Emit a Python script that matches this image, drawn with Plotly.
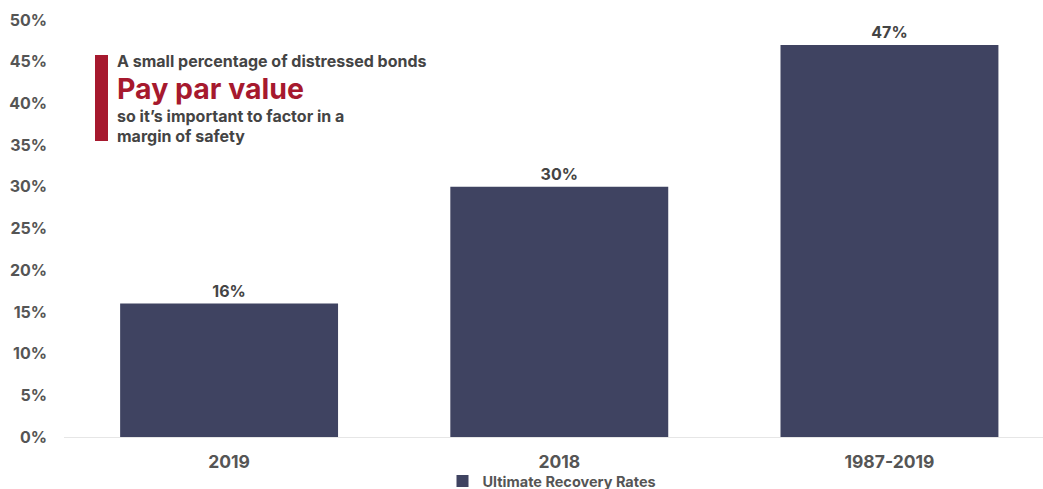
import plotly.graph_objects as go

categories = ["2019", "2018", "1987-2019"]
recovery_rates = [16, 30, 47]
y_ticks = [0, 5, 10, 15, 20, 25, 30, 35, 40, 45, 50]
y_tick_labels = [f"{v}%" for v in y_ticks]

BAR_COLOR = "#3f4361"
RED = "#a6192e"
GREY = "#555555"
FONT = "Inter"

W, H = 1043, 489
L, T, B = 64, 20, 52
PW, PH = W - L, H - T - B


def px_x(x):
    return (x - L) / PW


def px_y(y):
    return (H - B - y) / PH


fig = go.Figure()
fig.add_trace(go.Bar(
    x=list(range(len(categories))),
    y=recovery_rates,
    name="Ultimate Recovery Rates",
    marker=dict(color=BAR_COLOR, line=dict(width=0)),
    width=0.66,
    text=[f"{v}%" for v in recovery_rates],
    textposition="outside",
    textfont=dict(family=FONT, size=16, color="#444444", weight="bold"),
    cliponaxis=False,
))

fig.update_layout(
    width=W, height=H,
    margin=dict(l=L, r=0, t=T, b=B, autoexpand=False),
    plot_bgcolor="white", paper_bgcolor="white",
    font=dict(family=FONT, color=GREY),
    showlegend=True,
    legend=dict(
        orientation="h", x=px_x(552), xanchor="center",
        y=px_y(481), yanchor="middle",
        bgcolor="rgba(0,0,0,0)",
        font=dict(family=FONT, size=14.5, color=GREY, weight="bold"),
    ),
    xaxis=dict(
        range=[-0.5, 2.465],
        tickvals=list(range(len(categories))),
        ticktext=categories,
        tickfont=dict(family=FONT, size=17.5, color=GREY, weight="bold"),
        showgrid=False, zeroline=False,
        showline=True, linecolor="#e6e6e6", linewidth=1,
        ticks="", ticklabelstandoff=9, automargin=False,
    ),
    yaxis=dict(
        range=[0, 50],
        tickvals=y_ticks, ticktext=y_tick_labels,
        tickfont=dict(family=FONT, size=16, color=GREY, weight="bold"),
        showgrid=False, zeroline=False, showline=False,
        ticks="", ticklabelstandoff=16, automargin=False,
    ),
)

# Red accent bar beside the callout text
fig.add_shape(type="rect", xref="paper", yref="paper",
              x0=px_x(95), x1=px_x(108),
              y0=px_y(141), y1=px_y(55),
              fillcolor=RED, line=dict(width=0))

callout = [
    ("A small percentage of distressed bonds", 61, 16, "#444444"),
    ("Pay par value", 88, 28.5, RED),
    ("so it\u2019s important to factor in a", 116, 16, "#444444"),
    ("margin of safety", 136, 16, "#444444"),
]
for text, ypix, size, color in callout:
    fig.add_annotation(
        xref="paper", yref="paper",
        x=px_x(115), y=px_y(ypix),
        xanchor="left", yanchor="middle",
        text=text, showarrow=False,
        font=dict(family=FONT, size=size, color=color, weight="bold"),
    )

fig.write_html("out.html")
